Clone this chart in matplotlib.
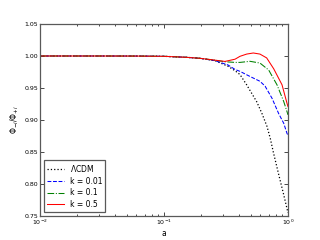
import matplotlib
matplotlib.use('Agg')
import matplotlib.pyplot as plt

# values
a_lcdm = [0.01, 0.03, 0.06, 0.1, 0.15, 0.195, 0.258, 0.328, 0.374, 0.41, 0.464,
          0.559, 0.617, 0.677, 0.72, 0.761, 0.836, 0.916, 1.0]
phi_lcdm = [1.0, 1.0, 0.9999, 0.9995, 0.998, 0.9964, 0.9927, 0.984, 0.977, 0.971, 0.955,
            0.9286, 0.910, 0.890, 0.871, 0.850, 0.817, 0.786, 0.755]

a_k001 = [0.01, 0.03, 0.06, 0.1, 0.15, 0.195, 0.258, 0.328, 0.374, 0.41, 0.494,
          0.594, 0.653, 0.743, 0.841, 0.923, 0.982, 1.0]
phi_k001 = [1.0, 1.0, 0.9999, 0.9995, 0.998, 0.9964, 0.9927, 0.986, 0.979, 0.976, 0.968,
            0.9605, 0.953, 0.934, 0.910, 0.895, 0.879, 0.876]

a_k01 = [0.01, 0.03, 0.06, 0.1, 0.15, 0.195, 0.258, 0.31, 0.374, 0.41, 0.494,
         0.594, 0.699, 0.815, 0.923, 0.982, 1.0]
phi_k01 = [1.0, 1.0, 0.9999, 0.9995, 0.998, 0.9964, 0.9935, 0.991, 0.990, 0.990, 0.9917,
           0.989, 0.978, 0.955, 0.929, 0.913, 0.908]

a_k05 = [0.01, 0.03, 0.06, 0.1, 0.15, 0.195, 0.258, 0.31, 0.374, 0.41, 0.464,
         0.525, 0.594, 0.673, 0.767, 0.895, 0.982, 1.0]
phi_k05 = [1.0, 1.0, 0.9999, 0.9995, 0.998, 0.9964, 0.9935, 0.9915, 0.995, 0.9995, 1.003,
           1.0047, 1.003, 0.997, 0.980, 0.955, 0.926, 0.921]

labels = [r'$\Lambda$CDM', 'k = 0.01', 'k = 0.1', 'k = 0.5']

fig = plt.figure(figsize=(3.2, 2.4), dpi=100)
ax = fig.add_subplot(111)
fig.subplots_adjust(left=0.125, right=0.9, bottom=0.1, top=0.9)

ax.plot(a_lcdm, phi_lcdm, 'k:', lw=0.9, label=labels[0])
ax.plot(a_k001, phi_k001, 'b--', lw=0.75, label=labels[1])
ax.plot(a_k01, phi_k01, 'g-.', lw=0.75, label=labels[2])
ax.plot(a_k05, phi_k05, 'r-', lw=0.75, label=labels[3])

ax.set_xscale('log')
ax.set_xlim(0.01, 1)
ax.set_ylim(0.75, 1.05)
ax.set_yticks([0.75, 0.80, 0.85, 0.90, 0.95, 1.00, 1.05])
ax.set_yticklabels(['0.75', '0.80', '0.85', '0.90', '0.95', '1.00', '1.05'])

ax.tick_params(which='both', direction='in', top=True, right=True, labelsize=4.5, pad=1.5)
ax.tick_params(which='major', length=3, width=0.5)
ax.tick_params(which='minor', length=1.5, width=0.5)
for sp in ax.spines.values():
    sp.set_linewidth(0.9)
    sp.set_color('0.35')

ax.set_xlabel('a', fontsize=5.5, labelpad=1)
ax.set_ylabel(r'$\Phi_{-i}/\Phi_{+i}$', fontsize=5.5, labelpad=2)

leg = ax.legend(loc='lower left', fontsize=5.5, handlelength=2.2, borderpad=0.4,
                labelspacing=0.35, fancybox=False, framealpha=1)
leg.get_frame().set_edgecolor('0.35')
leg.get_frame().set_linewidth(0.9)

plt.savefig('out.png', dpi=100)
